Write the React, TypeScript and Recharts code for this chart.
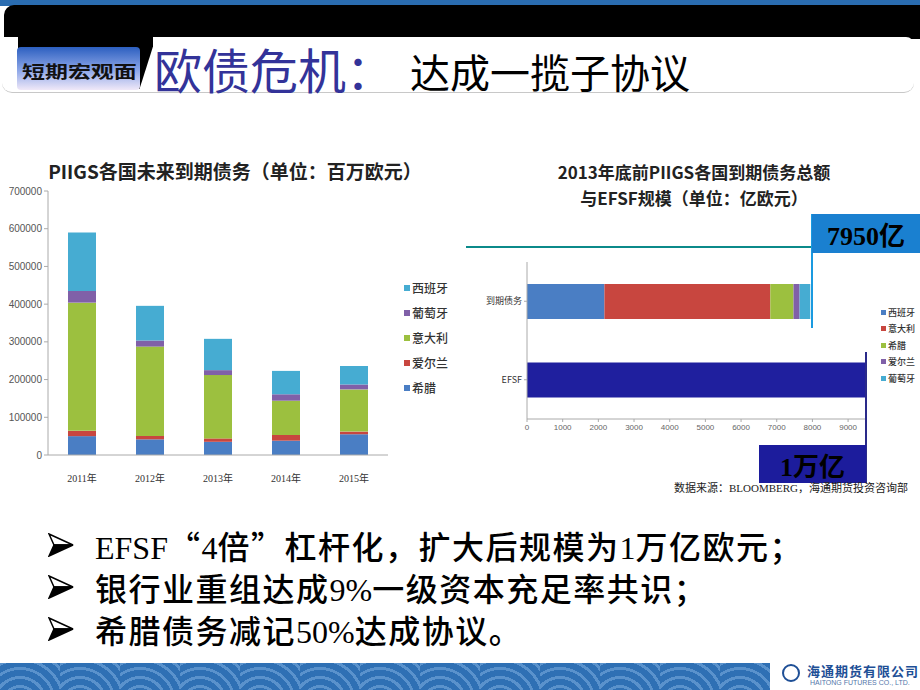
import React from "react";
import { Bar, BarChart, XAxis, YAxis } from "recharts";

// PIIGS maturing debt by year (million EUR)
const years = ["2011年", "2012年", "2013年", "2014年", "2015年"];
const greece = [50000, 41500, 35000, 38000, 55000];
const ireland = [14000, 9000, 9000, 15000, 7000];
const italy = [340000, 237000, 168000, 91000, 112000];
const portugal = [31000, 16000, 13000, 17000, 13000];
const spain = [155000, 92000, 83000, 62000, 49000];
const leftTicks = [0, 100000, 200000, 300000, 400000, 500000, 600000, 700000];

// debt maturing before end of 2013 vs EFSF (100 million EUR)
const rightCats = ["到期债务", "EFSF"];
const spain13 = [2170, null];
const italy13 = [4650, null];
const greece13 = [650, null];
const ireland13 = [170, null];
const portugal13 = [300, null];
const efsf = [null, 9530];
const rightTicks = [0, 1000, 2000, 3000, 4000, 5000, 6000, 7000, 8000, 9000];

const bullets = [
  "EFSF“4倍”杠杆化，扩大后规模为1万亿欧元；",
  "银行业重组达成9%一级资本充足率共识；",
  "希腊债务减记50%达成协议。",
];

const C = {
  greece: "#4a7ec4",
  ireland: "#c8463f",
  italy: "#9cc03f",
  portugal: "#8060a8",
  spain: "#46acd2",
};

// stack order bottom -> top
const leftSeries = [
  { key: "希腊", values: greece, color: C.greece },
  { key: "爱尔兰", values: ireland, color: C.ireland },
  { key: "意大利", values: italy, color: C.italy },
  { key: "葡萄牙", values: portugal, color: C.portugal },
  { key: "西班牙", values: spain, color: C.spain },
];

const rightSeries = [
  { key: "西班牙", values: spain13, color: C.greece },
  { key: "意大利", values: italy13, color: C.ireland },
  { key: "希腊", values: greece13, color: C.italy },
  { key: "爱尔兰", values: ireland13, color: C.portugal },
  { key: "葡萄牙", values: portugal13, color: C.spain },
];

const leftData = years.map((year, i) => {
  const row: Record<string, any> = { year };
  leftSeries.forEach((s) => (row[s.key] = s.values[i]));
  return row;
});

const rightData = rightCats.map((name, i) => {
  const row: Record<string, any> = { name, EFSF: efsf[i] };
  rightSeries.forEach((s) => (row[s.key] = s.values[i]));
  return row;
});

const cjk = '"Noto Sans CJK SC", sans-serif';
const serifCjk = '"Liberation Serif", "Noto Sans CJK SC", serif';

function Legend({ items, left, top, gap, size, font }: any) {
  return (
    <div style={{ position: "absolute", left, top, fontFamily: cjk, fontSize: font, fontWeight: 500, color: "#333" }}>
      {items.map((s: any) => (
        <div key={s.key} style={{ height: gap, display: "flex", alignItems: "center" }}>
          <span style={{ width: size, height: size, background: s.color, marginRight: 2, display: "inline-block" }} />
          {s.key}
        </div>
      ))}
    </div>
  );
}

// latin letters/digits in serif, everything else in the CJK face
function BulletText({ text }: { text: string }) {
  const parts = text.match(/[A-Za-z0-9%]+|[^A-Za-z0-9%]+/g) || [];
  return (
    <span style={{ fontSize: 32, color: "#000" }}>
      {parts.map((p, i) => (
        <span key={i} style={/[A-Za-z0-9%]/.test(p) ? { fontFamily: '"Liberation Serif"' } : { fontFamily: cjk, fontWeight: 500, letterSpacing: 1.5 }}>
          {p}
        </span>
      ))}
    </span>
  );
}

function Arrow() {
  return (
    <svg width={26} height={24} style={{ marginRight: 21 }}>
      <polygon points="1,1 25,12 6,12" fill="#fff" stroke="#000" strokeWidth={1.5} />
      <polygon points="1,23 25,12 6,12" fill="#000" stroke="#000" strokeWidth={1.5} />
    </svg>
  );
}

export default function App() {
  return (
    <div style={{ position: "absolute", left: 0, top: 0, width: 920, height: 690, background: "#fff", overflow: "hidden", fontFamily: cjk }}>
      {/* header */}
      <div style={{ position: "absolute", left: 0, top: 0, width: 920, height: 6, background: "#2a6cb0" }} />
      <div style={{ position: "absolute", left: 4, top: 5, width: 916, height: 34, background: "#000", borderTopLeftRadius: 10 }} />
      <div style={{ position: "absolute", left: 2, top: 37, width: 912, height: 55, background: "#fff", borderBottom: "1px solid #c8c8c8", borderRadius: "0 8px 10px 10px" }} />
      <div style={{ position: "absolute", left: 18, top: 36, width: 135, height: 53, background: "#000", clipPath: "polygon(0 0, 100% 0, 100% 20%, 90% 100%, 0 100%)" }} />
      <div style={{ position: "absolute", left: 17, top: 47, width: 123, height: 43, borderRadius: 4, background: "linear-gradient(#2c5fc0, #8fa8e8 55%, #f0e8f8)", overflow: "hidden" }}>
        <div style={{ position: "absolute", left: 5, top: 11, fontSize: 17, fontWeight: 700, color: "#111", whiteSpace: "nowrap", transform: "scaleX(1.35)", transformOrigin: "left center" }}>短期宏观面</div>
      </div>
      <div style={{ position: "absolute", left: 154, top: 33, fontSize: 48, color: "#333399", whiteSpace: "nowrap" }}>欧债危机：</div>
      <div style={{ position: "absolute", left: 410, top: 42, fontSize: 40, color: "#000", whiteSpace: "nowrap" }}>达成一揽子协议</div>

      {/* left chart */}
      <div style={{ position: "absolute", left: 0, top: 157, width: 470, textAlign: "center", fontSize: 19, fontWeight: 700, color: "#222" }}>
        PIIGS各国未来到期债务（单位：百万欧元）
      </div>
      <div style={{ position: "absolute", left: 0, top: 180 }}>
        <BarChart width={460} height={310} data={leftData} margin={{ top: 11, right: 72, bottom: 5, left: 0 }}>
          <XAxis dataKey="year" height={30} tickLine={false} stroke="#aaa" tick={{ fontSize: 10, fill: "#333", fontFamily: serifCjk, dy: 12 }} />
          <YAxis width={48} domain={[0, 700000]} ticks={leftTicks} stroke="#aaa" tickSize={4} tick={{ fontSize: 10, fill: "#555", fontFamily: "Liberation Sans" }} />
          {leftSeries.map((s) => (
            <Bar key={s.key} dataKey={s.key} stackId="a" fill={s.color} barSize={28} isAnimationActive={false} />
          ))}
        </BarChart>
      </div>
      <Legend items={[...leftSeries].reverse()} left={404} top={275} gap={25} size={6} font={12} />

      {/* right chart */}
      <div style={{ position: "absolute", left: 460, top: 159, width: 468, textAlign: "center", fontSize: 17, fontWeight: 700, color: "#222", lineHeight: "26px" }}>
        <div>2013年底前PIIGS各国到期债务总额</div>
        <div>与EFSF规模（单位：亿欧元）</div>
      </div>
      <div style={{ position: "absolute", left: 466, top: 246, width: 346, height: 2, background: "#0b8a8a" }} />
      <div style={{ position: "absolute", left: 460, top: 250 }}>
        <BarChart layout="vertical" width={460} height={200} data={rightData} margin={{ top: 12, right: 53, bottom: 6, left: 7 }}>
          <XAxis type="number" domain={[0, "dataMax"]} ticks={rightTicks} height={25} stroke="#aaa" tickSize={3} tick={{ fontSize: 8, fill: "#666", fontFamily: "Liberation Sans" }} />
          <YAxis type="category" dataKey="name" width={60} stroke="#aaa" tickSize={3} tick={{ fontSize: 9, fill: "#333", fontFamily: cjk }} />
          {rightSeries.map((s) => (
            <Bar key={s.key} dataKey={s.key} stackId="r" fill={s.color} barSize={35} isAnimationActive={false} />
          ))}
          <Bar dataKey="EFSF" stackId="r" fill="#1f1f9e" barSize={35} isAnimationActive={false} />
        </BarChart>
      </div>
      <Legend items={rightSeries} left={881} top={304} gap={16.5} size={5} font={9} />

      {/* annotations */}
      <div style={{ position: "absolute", left: 811, top: 214, width: 2, height: 114, background: "#1a9ae0" }} />
      <div style={{ position: "absolute", left: 812, top: 214, width: 108, height: 39, background: "#1a80d0", display: "flex", alignItems: "center", justifyContent: "center", fontFamily: serifCjk, fontWeight: 700, fontSize: 26, color: "#000" }}>7950亿</div>
      <div style={{ position: "absolute", left: 865, top: 352, width: 2, height: 131, background: "#2a2a8a" }} />
      <div style={{ position: "absolute", left: 759, top: 445, width: 107, height: 38, background: "#1c1c9c", display: "flex", alignItems: "center", justifyContent: "center", fontFamily: serifCjk, fontWeight: 700, fontSize: 26, color: "#000" }}>1万亿</div>
      <div style={{ position: "absolute", left: 674, top: 479, fontSize: 11, fontFamily: serifCjk, color: "#222", whiteSpace: "nowrap" }}>
        数据来源：BLOOMBERG，海通期货投资咨询部
      </div>

      {/* bullets */}
      {bullets.map((b, i) => (
        <div key={b} style={{ position: "absolute", left: 48, top: 524 + i * 42, height: 42, display: "flex", alignItems: "center", whiteSpace: "nowrap" }}>
          <Arrow />
          <BulletText text={b} />
        </div>
      ))}

      {/* footer */}
      <div style={{ position: "absolute", left: 0, top: 663, width: 770, height: 27, background: "repeating-radial-gradient(circle at 20px 40px, #2f70b4 0 6px, #5a92cc 6px 9px)", backgroundSize: "60px 30px", backgroundColor: "#2f70b4" }} />
      <div style={{ position: "absolute", left: 782, top: 664, width: 18, height: 18, borderRadius: 9, border: "2px solid #1e4f96", boxSizing: "border-box" }} />
      <div style={{ position: "absolute", left: 807, top: 661, fontSize: 13, fontWeight: 700, color: "#1e4f96", whiteSpace: "nowrap", letterSpacing: 1 }}>海通期货有限公司</div>
      <div style={{ position: "absolute", left: 810, top: 679, fontSize: 7, color: "#5577aa", whiteSpace: "nowrap", fontFamily: "Liberation Sans" }}>HAITONG FUTURES CO., LTD.</div>
    </div>
  );
}
